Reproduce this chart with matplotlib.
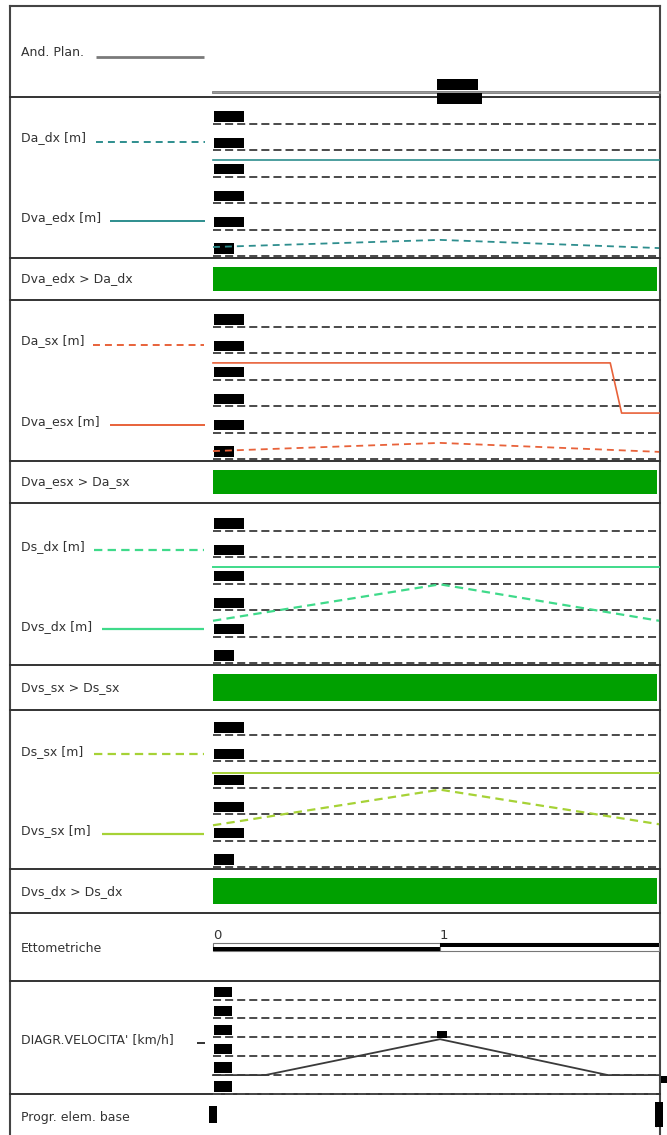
import numpy as np
import matplotlib
matplotlib.use("Agg")
import matplotlib.pyplot as plt
from matplotlib.patches import Rectangle
from matplotlib.transforms import offset_copy

plt.rcParams["lines.scale_dashes"] = False
plt.rcParams["font.family"] = ["DejaVu Sans"]

# ---------------------------------------------------------------- data
# chainage along the road, in hectometres
x_end = 1.965

# planimetric alignment
plan_x = [0.0, 1.965]
plan_y = [0.0, 0.0]
plan_tags = ["R=120.0", "L=45.000"]

# visibility distances [m]
dist_ticks = [0, 50, 100, 150, 200, 250]

da_dx_x = [0.0, 1.0, 1.965]
da_dx = [17.0, 30.5, 15.0]
dva_edx_x = [0.0, 1.965]
dva_edx = [182.0, 182.0]

da_sx_x = [0.0, 1.0, 1.965]
da_sx = [15.0, 30.5, 13.5]
dva_esx_x = [0.0, 1.75, 1.80, 1.965]
dva_esx = [182.0, 182.0, 87.0, 87.0]

ds_dx_x = [0.0, 1.0, 1.965]
ds_dx = [80.0, 149.0, 80.0]
dvs_dx_x = [0.0, 1.965]
dvs_dx = [181.5, 181.5]

ds_sx_x = [0.0, 1.0, 1.965]
ds_sx = [79.0, 146.5, 81.0]
dvs_sx_x = [0.0, 1.965]
dvs_sx = [178.0, 178.0]

# hectometre marks
hm_marks = [0, 1]

# speed diagram [km/h]
vel_ticks = [30, 40, 50, 60, 70, 80]
vel_x = [0.0, 0.23, 1.0, 1.74, 1.965]
vel = [40, 40, 59, 40, 40]

# base element progressives
prog_x = [0.0, 1.965]

# ---------------------------------------------------------------- style
W, H, DPI = 667, 1135, 100
X0 = 213                                 # left edge of the drawing strip (px)
X1 = X0 + x_end * 227                    # right edge (px)
FRAME_L, FRAME_R, FRAME_T = 10, 659.5, 6
SEPS = [97, 258, 300, 461, 503, 665, 710, 869, 913, 981, 1094]

TEAL = "#2E8E8E"
ORANGE = "#E8623A"
LGREEN = "#3FDA8A"
YGREEN = "#A6D236"
OKGREEN = "#00A000"
GRIDC = "#4A4A4A"
TXT = "#333333"
LABEL_FS = 9
FIGSP = "\u2007"   # figure space, same advance as a digit

fig = plt.figure(figsize=(W / DPI, H / DPI), dpi=DPI)

bg = fig.add_axes([0, 0, 1, 1])
bg.set_xlim(0, W)
bg.set_ylim(H, 0)
bg.axis("off")

# outer frame and panel separators
bg.plot([FRAME_L, FRAME_L], [FRAME_T, H + 5], color="#444444", lw=1.5)
bg.plot([FRAME_R, FRAME_R], [FRAME_T, H + 5], color="#444444", lw=1.5)
bg.plot([FRAME_L, FRAME_R], [FRAME_T, FRAME_T], color="#444444", lw=1.5)
for ys in SEPS:
    bg.plot([FRAME_L, FRAME_R], [ys, ys], color="#333333", lw=1.4)


def fy(py):
    return 1 - py / H


def strip_axes(top, bottom):
    ax = fig.add_axes([X0 / W, fy(bottom), (X1 - X0) / W, fy(top) - fy(bottom)])
    ax.set_xlim(0, x_end)
    ax.axis("off")
    return ax


def side_label(text, y, line=None):
    bg.text(21, y, text, fontsize=LABEL_FS, color=TXT, ha="left", va="center")
    if line is not None:
        x_a, x_b, ly, color, ls, lw = line
        bg.plot([x_a, x_b], [ly, ly], color=color, ls=ls, lw=lw, solid_capstyle="butt")


BOX = dict(boxstyle="square,pad=0.08", fc="black", ec="none")


def tick_boxes(ax, ticks, labels, fs=6, dy=3):
    tr = offset_copy(ax.transData, fig=fig, x=1.5, y=dy, units="dots")
    for t, lab in zip(ticks, labels):
        ax.text(0, t, lab, transform=tr, fontsize=fs, color="black",
                ha="left", va="bottom", zorder=2, clip_on=False, bbox=BOX)


def grid_lines(ax, ticks):
    for t in ticks:
        ax.plot([0, x_end], [t, t], color=GRIDC, lw=1.4,
                ls=(0, (5.8, 2.9)), zorder=1, clip_on=False)


def dist_label(v):
    if v == 0:
        return f"{v:.2f}"
    return f"{v:.2f}".rjust(6, FIGSP)


def distance_panel(top, bottom, series):
    ax = strip_axes(top, bottom)
    g0 = bottom - 2          # pixel row of the first tick
    s = 26.4                 # pixels between ticks
    step = dist_ticks[1] - dist_ticks[0]
    ax.set_ylim(-(bottom - g0) / s * step + dist_ticks[0],
                (g0 - top) / s * step + dist_ticks[0])
    grid_lines(ax, dist_ticks)
    tick_boxes(ax, dist_ticks, [dist_label(v) for v in dist_ticks])
    for xs, ys, color, ls, lw in series:
        ax.plot(xs, ys, color=color, ls=ls, lw=lw, zorder=3, clip_on=False)
    return ax


def ok_intervals(xa, ya, xb, yb):
    """Chainage ranges where series b exceeds series a."""
    xs = np.union1d(xa, xb)
    ok = np.interp(xs, xb, yb) > np.interp(xs, xa, ya)
    runs, start = [], None
    for i, flag in enumerate(ok):
        if flag and start is None:
            start = xs[i]
        if (not flag or i == len(ok) - 1) and start is not None:
            runs.append((start, xs[i] if flag else xs[i - 1]))
            start = None
    return runs


def check_panel(top, bottom, runs):
    ax = strip_axes(top, bottom)
    ax.set_ylim(bottom, top)
    for a, b in runs:
        ax.add_patch(Rectangle((a - 0.004, top + 9), b - a - 0.004,
                               (bottom - top) - 18, fc=OKGREEN, ec="none"))


# ---- And. Plan.
side_label("And. Plan.", 53, (96, 204, 57, "#7A7A7A", "-", 2.0))
ax = strip_axes(6, 97)
ax.set_ylim(-5, 86)
ax.plot(plan_x, plan_y, color="#7A7A7A", lw=2.0, clip_on=False)
ax.plot(plan_x, plan_y, color="#9A9A9A", lw=0.8, clip_on=False)
tr_up = offset_copy(ax.transData, fig=fig, x=0, y=3, units="dots")
tr_dn = offset_copy(ax.transData, fig=fig, x=0, y=-2, units="dots")
ax.text(0.99, plan_y[0], plan_tags[0], transform=tr_up, fontsize=6.5, color="black",
        ha="left", va="bottom", bbox=BOX)
ax.text(0.99, plan_y[0], plan_tags[1], transform=tr_dn, fontsize=6.5, color="black",
        ha="left", va="top", bbox=BOX)

# ---- right-side clearances
side_label("Da_dx [m]", 138, (96, 205, 142, TEAL, (0, (5.0, 3.6)), 1.4))
side_label("Dva_edx [m]", 218, (110, 205, 221, TEAL, "-", 1.4))
distance_panel(97, 258, [(da_dx_x, da_dx, TEAL, (0, (5.0, 3.6)), 1.3),
                         (dva_edx_x, dva_edx, TEAL, "-", 1.2)])
side_label("Dva_edx > Da_dx", 279)
check_panel(258, 300, ok_intervals(da_dx_x, da_dx, dva_edx_x, dva_edx))

# ---- left-side clearances
side_label("Da_sx [m]", 341, (93, 204, 345, ORANGE, (0, (5.0, 3.6)), 1.4))
side_label("Dva_esx [m]", 422, (110, 205, 425, ORANGE, "-", 1.4))
distance_panel(300, 461, [(da_sx_x, da_sx, ORANGE, (0, (5.0, 3.6)), 1.3),
                          (dva_esx_x, dva_esx, ORANGE, "-", 1.2)])
side_label("Dva_esx > Da_sx", 482)
check_panel(461, 503, ok_intervals(da_sx_x, da_sx, dva_esx_x, dva_esx))

# ---- stopping sight, right
side_label("Ds_dx [m]", 547, (94, 204, 550, LGREEN, (0, (6.0, 3.8)), 1.6))
side_label("Dvs_dx [m]", 627, (102, 204, 629, LGREEN, "-", 1.6))
distance_panel(503, 665, [(ds_dx_x, ds_dx, LGREEN, (0, (6.0, 3.8)), 1.6),
                          (dvs_dx_x, dvs_dx, LGREEN, "-", 1.4)])
side_label("Dvs_sx > Ds_sx", 688)
check_panel(665, 710, ok_intervals(ds_dx_x, ds_dx, dvs_dx_x, dvs_dx))

# ---- stopping sight, left
side_label("Ds_sx [m]", 752, (94, 204, 754, YGREEN, (0, (6.0, 3.8)), 1.6))
side_label("Dvs_sx [m]", 831, (102, 204, 834, YGREEN, "-", 1.6))
distance_panel(710, 869, [(ds_sx_x, ds_sx, YGREEN, (0, (6.0, 3.8)), 1.6),
                          (dvs_sx_x, dvs_sx, YGREEN, "-", 1.4)])
side_label("Dvs_dx > Ds_dx", 892)
check_panel(869, 913, ok_intervals(ds_sx_x, ds_sx, dvs_sx_x, dvs_sx))

# ---- hectometre marks
side_label("Ettometriche", 948)
ax = strip_axes(913, 981)
ax.set_ylim(981, 913)
hm_edges = list(hm_marks) + [x_end]
for i, (a, b) in enumerate(zip(hm_edges[:-1], hm_edges[1:])):
    ax.add_patch(Rectangle((a, 943), b - a, 8, fc="white", ec="#777777", lw=0.8,
                           clip_on=False))
    half_y = 947 if i % 2 == 0 else 943
    ax.add_patch(Rectangle((a, half_y), b - a, 4, fc="black", ec="none", clip_on=False))
    ax.text(a, 942, f"{hm_marks[i]}", fontsize=9.5, color=TXT, ha="left", va="bottom")

# ---- speed diagram
side_label("DIAGR.VELOCITA' [km/h]", 1040, (197, 205, 1043, "#333333", "-", 1.4))
ax = strip_axes(981, 1094)
vs = 18.9
vstep = vel_ticks[1] - vel_ticks[0]
ax.set_ylim(vel_ticks[0], vel_ticks[0] + (1094 - 981) / vs * vstep)
grid_lines(ax, vel_ticks)
tick_boxes(ax, vel_ticks, [f"{v:.1f}" for v in vel_ticks], fs=5.6)
ax.plot(vel_x, vel, color="#3A3A3A", lw=1.3, zorder=3, clip_on=False)
ipk = int(np.argmax(vel))
tr = offset_copy(ax.transData, fig=fig, x=2, y=2, units="dots")
ax.text(vel_x[ipk], vel[ipk], f"{vel[ipk]}", transform=tr, fontsize=5, color="black",
        ha="center", va="bottom", zorder=4, bbox=BOX)
tr = offset_copy(ax.transData, fig=fig, x=3, y=-1, units="dots")
ax.text(vel_x[-1], vel[-1], f"{vel[-1]}", transform=tr, fontsize=5, color="black",
        ha="left", va="top", zorder=4, clip_on=False, bbox=BOX)

# ---- base element progressives
side_label("Progr. elem. base", 1118)
ax = strip_axes(1094, H)
for px in prog_x:
    ax.text(px, 0.5, f"{px * 100:.2f}", transform=ax.get_xaxis_transform(),
            fontsize=5, color="black", rotation=90, ha="center", va="center",
            clip_on=False, bbox=BOX)

fig.savefig("out.png", dpi=DPI)
